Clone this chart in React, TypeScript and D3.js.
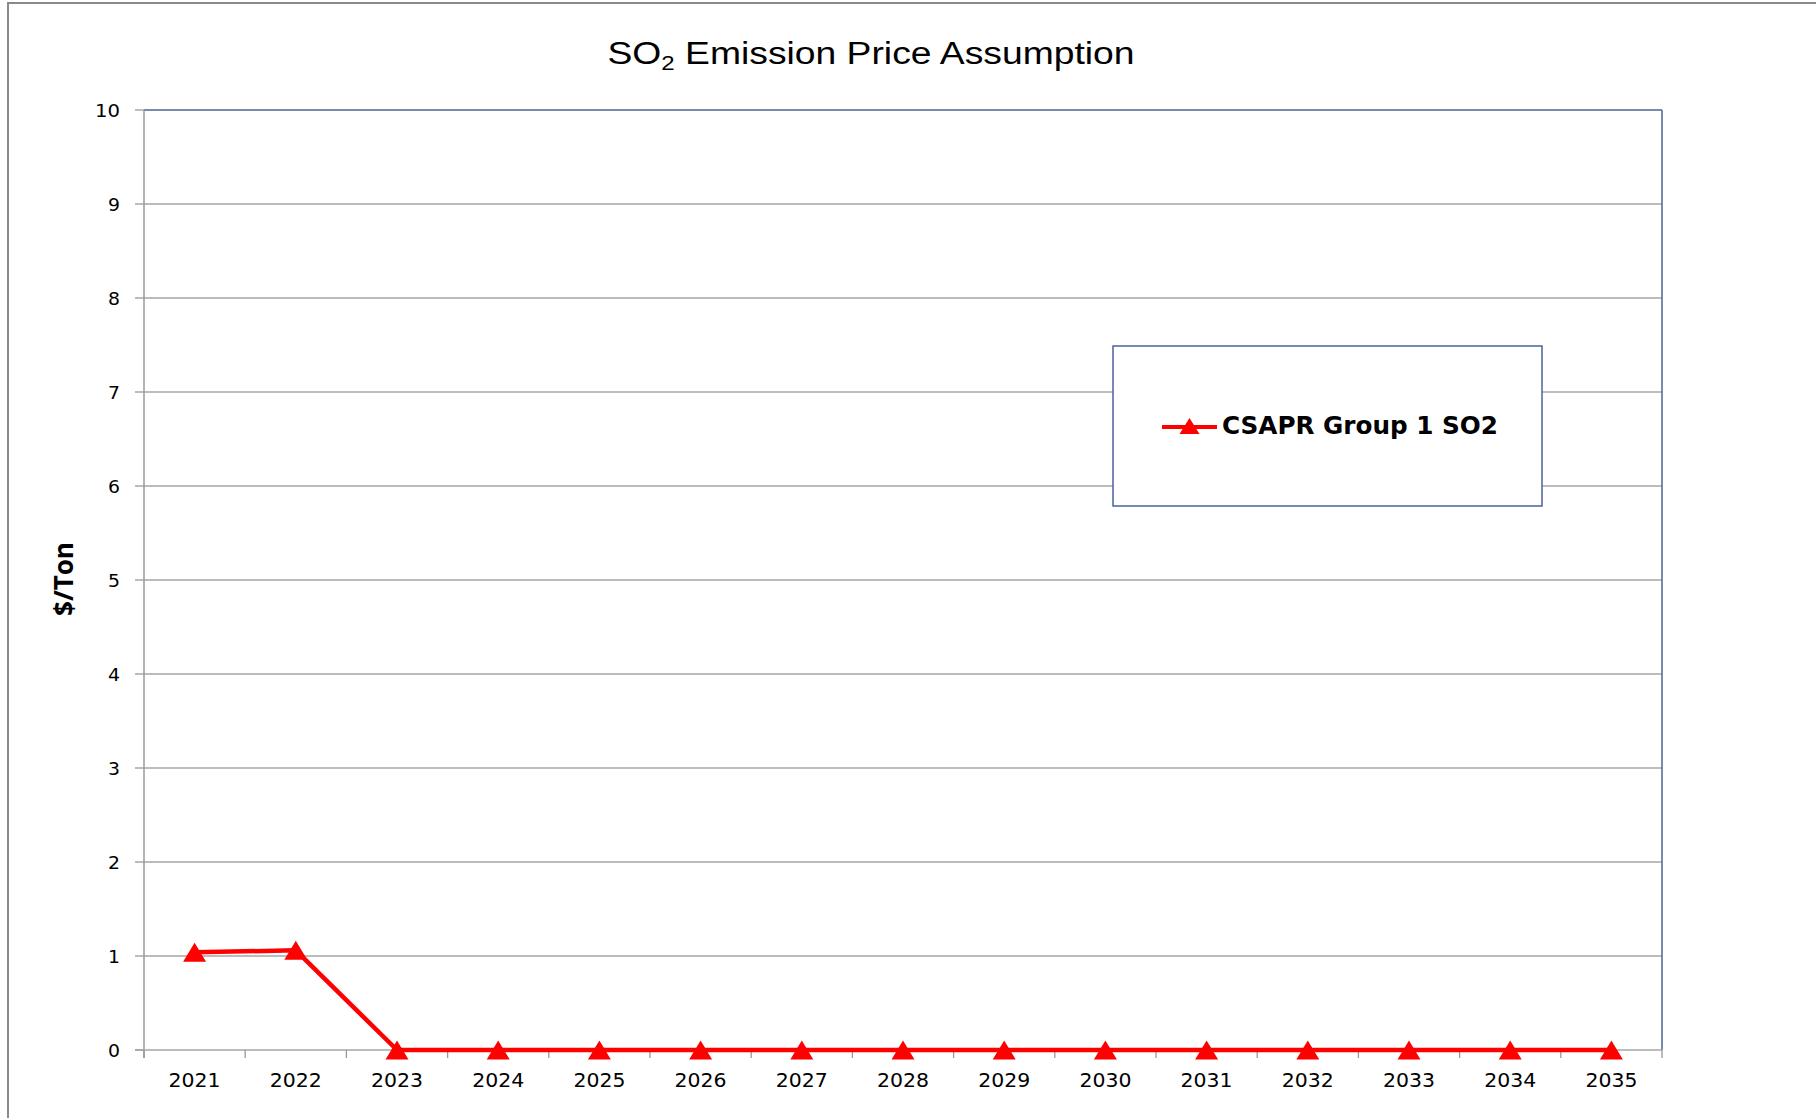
import React from 'react';
import * as d3 from 'd3';

const years = ['2021', '2022', '2023', '2024', '2025', '2026', '2027', '2028', '2029', '2030', '2031', '2032', '2033', '2034', '2035'];
const so2Price = [1.04, 1.06, 0, 0, 0, 0, 0, 0, 0, 0, 0, 0, 0, 0, 0];
const yTicks = [0, 1, 2, 3, 4, 5, 6, 7, 8, 9, 10];
const seriesName = 'CSAPR Group 1 SO2';

const W = 1816;
const H = 1118;
const plot = { left: 144, right: 1662, top: 110, bottom: 1050 };
const RED = '#ff0000';

const triangle = (cx: number, cy: number, w: number, h: number) =>
  `M${cx},${cy - h / 2}L${cx + w / 2},${cy + h / 2}L${cx - w / 2},${cy + h / 2}Z`;

export default function App() {
  const x = d3.scaleBand<string>().domain(years).range([plot.left, plot.right]).paddingInner(0).paddingOuter(0);
  const y = d3.scaleLinear().domain([0, 10]).range([plot.bottom, plot.top]);
  const cx = (yr: string) => (x(yr) ?? 0) + x.bandwidth() / 2;

  const points = years.map((yr, i) => ({ yr, v: so2Price[i] }));
  const line = d3.line<{ yr: string; v: number }>()
    .x(d => cx(d.yr))
    .y(d => y(d.v));

  const boundaries = years.map(yr => x(yr) ?? 0).concat([plot.right]);

  return (
    <svg width={W} height={H} style={{ position: 'absolute', left: 0, top: 0, background: '#fff' }}>
      {/* outer frame */}
      <rect x={8} y={3} width={W} height={H} fill="#fff" stroke="#8a8a8a" strokeWidth={2} />

      {/* title */}
      <text x={871} y={64} textAnchor="middle" fontFamily="'Liberation Sans', Arial, sans-serif" fontSize={31}
        textLength={527} lengthAdjust="spacingAndGlyphs" fill="#000">
        SO<tspan fontSize={20} dy={6}>2</tspan><tspan dy={-6}> Emission Price Assumption</tspan>
      </text>

      {/* gridlines */}
      {yTicks.filter(t => t > 0 && t < 10).map(t => (
        <line key={t} x1={plot.left} x2={plot.right} y1={y(t)} y2={y(t)} stroke="#a6a6a6" strokeWidth={1.3} />
      ))}

      {/* plot border top/right */}
      <line x1={plot.left} x2={plot.right} y1={plot.top} y2={plot.top} stroke="#4a6396" strokeWidth={1.5} />
      <line x1={plot.right} x2={plot.right} y1={plot.top} y2={plot.bottom} stroke="#4a6396" strokeWidth={1.5} />

      {/* y axis */}
      <line x1={plot.left} x2={plot.left} y1={plot.top} y2={plot.bottom + 8} stroke="#999" strokeWidth={1.5} />
      {yTicks.map(t => (
        <g key={t}>
          <line x1={plot.left - 9} x2={plot.left} y1={y(t)} y2={y(t)} stroke="#999" strokeWidth={1.3} />
          <text x={120} y={y(t)} dy="0.36em" textAnchor="end" fontFamily="'DejaVu Sans', sans-serif" fontSize={18.5}
            textLength={t === 10 ? 25 : 12} lengthAdjust="spacingAndGlyphs" fill="#000">{t}</text>
        </g>
      ))}

      {/* x axis */}
      <line x1={plot.left - 9} x2={plot.right} y1={plot.bottom} y2={plot.bottom} stroke="#a6a6a6" strokeWidth={1.5} />
      {boundaries.map((bx, i) => (
        <line key={i} x1={bx} x2={bx} y1={plot.bottom} y2={plot.bottom + 8} stroke="#999" strokeWidth={1.3} />
      ))}
      {years.map(yr => (
        <text key={yr} x={cx(yr)} y={1087} textAnchor="middle" fontFamily="'DejaVu Sans', sans-serif" fontSize={19}
          textLength={52} lengthAdjust="spacingAndGlyphs" fill="#000">{yr}</text>
      ))}

      {/* y title */}
      <text transform="translate(73,579) rotate(-90)" textAnchor="middle" fontFamily="'Open Sans', 'DejaVu Sans', sans-serif"
        fontWeight="bold" fontSize={27} textLength={74} lengthAdjust="spacingAndGlyphs" fill="#000">$/Ton</text>

      {/* series */}
      <path d={line(points) ?? ''} fill="none" stroke={RED} strokeWidth={4.5} strokeLinejoin="round" />
      {points.map(p => (
        <path key={p.yr} d={triangle(cx(p.yr), y(p.v), 23, 19)} fill={RED} />
      ))}

      {/* legend */}
      <rect x={1113} y={346} width={429} height={160} fill="#fff" stroke="#4a6396" strokeWidth={1.5} />
      <line x1={1162} x2={1217} y1={427} y2={427} stroke={RED} strokeWidth={4} />
      <path d={triangle(1189.5, 426, 20, 16)} fill={RED} />
      <text x={1222} y={434} fontFamily="'DejaVu Sans', sans-serif" fontWeight="bold" fontSize={24}
        textLength={276} lengthAdjust="spacingAndGlyphs" fill="#000">{seriesName}</text>
    </svg>
  );
}
